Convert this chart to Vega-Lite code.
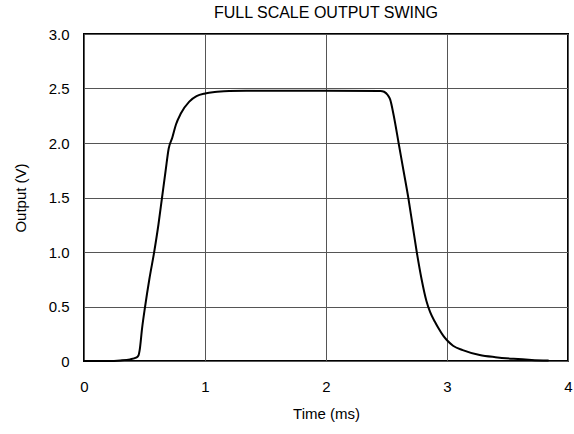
{
  "$schema": "https://vega.github.io/schema/vega-lite/v6.json",
  "width": 484,
  "height": 327,
  "autosize": "none",
  "padding": {"left": 84, "top": 34, "right": 6, "bottom": 73},
  "background": "white",
  "config": {
    "font": "Liberation Sans",
    "view": {"stroke": "black", "strokeWidth": 2},
    "axis": {"labelFont": "Liberation Sans", "titleFont": "Liberation Sans", "labelFontSize": 15, "titleFontSize": 15, "titleFontWeight": "normal", "labelColor": "black", "titleColor": "black", "domain": false, "ticks": false, "gridColor": "#555", "gridOpacity": 1, "gridWidth": 1}
  },
  "title": {"text": "FULL SCALE OUTPUT SWING", "fontSize": 16, "fontWeight": "normal", "font": "Liberation Sans", "color": "black", "offset": 6},
  "data": {"values": [
    {"t": 0, "v": 0}, {"t": 0.2, "v": 0}, {"t": 0.3, "v": 0.005}, {"t": 0.38, "v": 0.015},
    {"t": 0.43, "v": 0.03}, {"t": 0.45, "v": 0.05}, {"t": 0.46, "v": 0.1}, {"t": 0.48, "v": 0.3},
    {"t": 0.505, "v": 0.5}, {"t": 0.54, "v": 0.75}, {"t": 0.58, "v": 1.0}, {"t": 0.615, "v": 1.25},
    {"t": 0.645, "v": 1.5}, {"t": 0.675, "v": 1.75}, {"t": 0.70, "v": 1.95}, {"t": 0.73, "v": 2.05},
    {"t": 0.76, "v": 2.17}, {"t": 0.80, "v": 2.27}, {"t": 0.87, "v": 2.38}, {"t": 0.93, "v": 2.43},
    {"t": 1.0, "v": 2.455}, {"t": 1.1, "v": 2.47}, {"t": 1.2, "v": 2.478}, {"t": 1.4, "v": 2.48},
    {"t": 2.0, "v": 2.48}, {"t": 2.45, "v": 2.478}, {"t": 2.48, "v": 2.47}, {"t": 2.51, "v": 2.44},
    {"t": 2.53, "v": 2.4}, {"t": 2.56, "v": 2.25}, {"t": 2.60, "v": 2.0}, {"t": 2.64, "v": 1.75},
    {"t": 2.68, "v": 1.5}, {"t": 2.715, "v": 1.25}, {"t": 2.75, "v": 1.0}, {"t": 2.79, "v": 0.75},
    {"t": 2.83, "v": 0.55}, {"t": 2.86, "v": 0.45}, {"t": 2.9, "v": 0.36}, {"t": 2.93, "v": 0.3},
    {"t": 2.97, "v": 0.23}, {"t": 3.0, "v": 0.19}, {"t": 3.05, "v": 0.14}, {"t": 3.13, "v": 0.10},
    {"t": 3.27, "v": 0.055}, {"t": 3.4, "v": 0.035}, {"t": 3.55, "v": 0.02}, {"t": 3.7, "v": 0.01},
    {"t": 3.84, "v": 0.005}
  ]},
  "mark": {"type": "line", "color": "black", "strokeWidth": 2, "interpolate": "monotone"},
  "encoding": {
    "x": {"field": "t", "type": "quantitative", "title": "Time (ms)",
          "scale": {"domain": [0, 4], "nice": false},
          "axis": {"values": [0, 1, 2, 3, 4], "labelPadding": 18, "titlePadding": 12, "format": "d", "labelFlush": false}},
    "y": {"field": "v", "type": "quantitative", "title": "Output (V)",
          "scale": {"domain": [0, 3], "nice": false},
          "axis": {"values": [0, 0.5, 1, 1.5, 2, 2.5, 3], "labelPadding": 15, "titlePadding": 20, "labelFlush": false,
                   "labelExpr": "datum.value == 0 ? '0' : format(datum.value, '.1f')"}}
  }
}
